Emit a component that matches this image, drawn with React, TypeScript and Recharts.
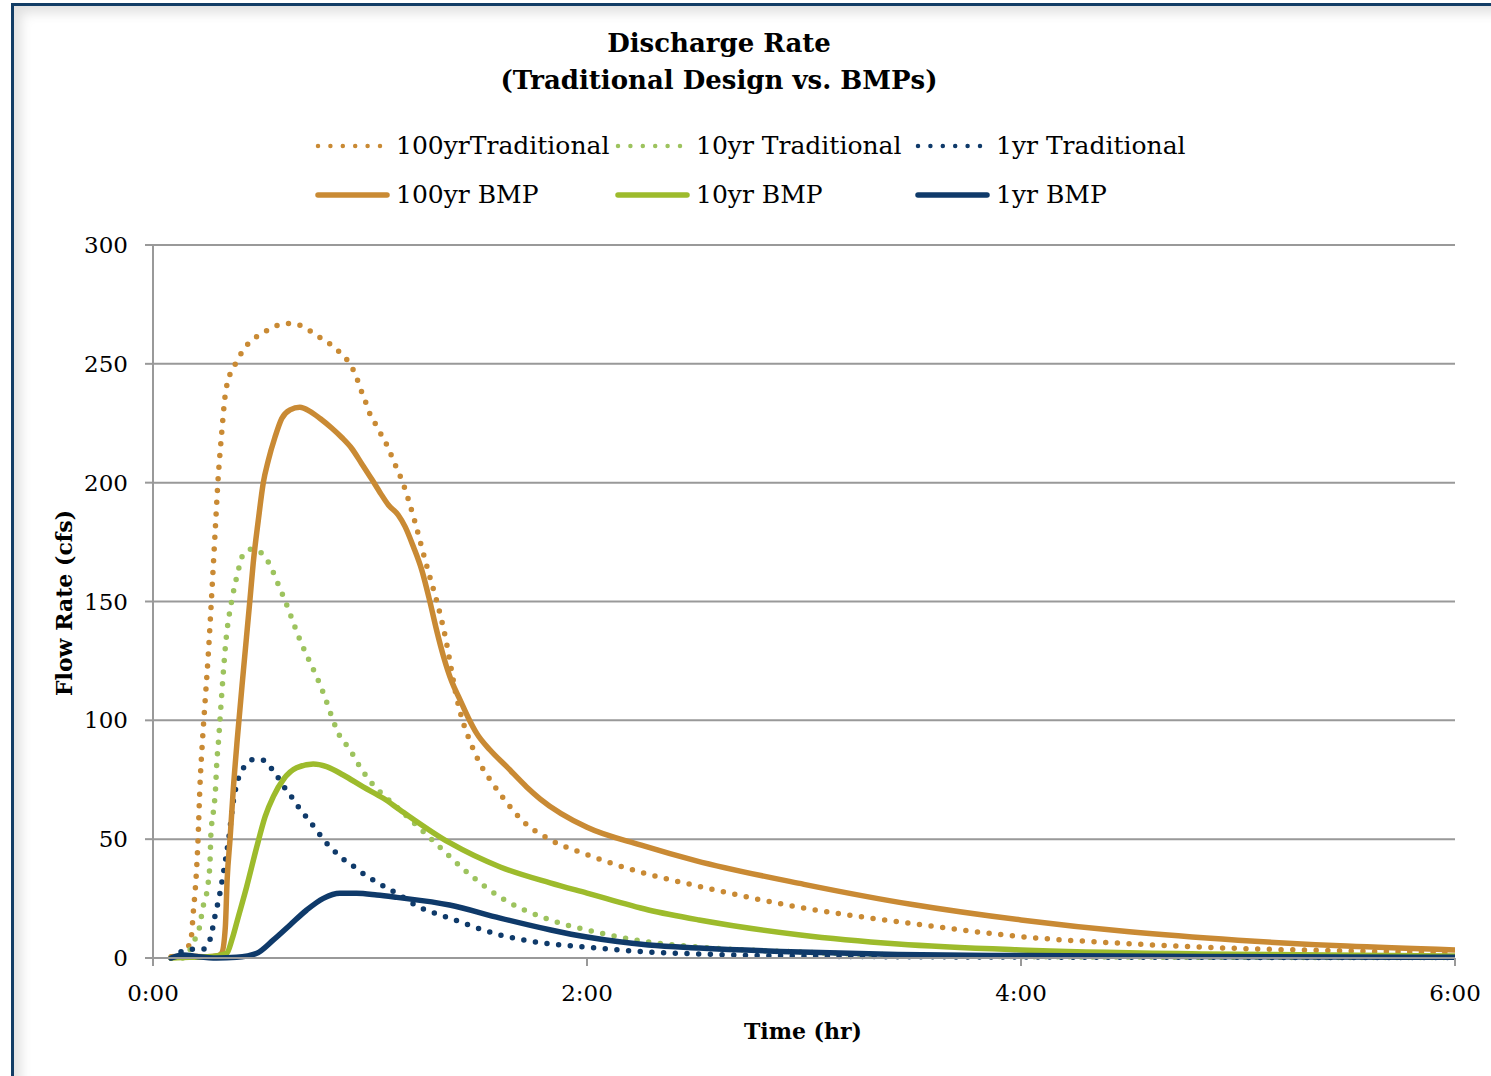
import { LineChart, Line, XAxis, YAxis, CartesianGrid, Legend, Label } from 'recharts';

const FONT = '"DejaVu Serif", serif';

// time in minutes after start, flow in cfs
const trad100Time = [5, 8, 9.5, 10.6, 11.1, 11.9, 12.4, 13, 13.7, 14.5, 15.3, 16.2, 17.1, 18, 19, 19.9, 21.3, 23, 24.5, 26.4, 28.9, 31.7, 34.6, 37.9, 41.1, 43.9, 46.6, 49.4, 51.7, 54, 55.6, 56.8, 57.9, 59.1, 60.2, 61.9, 63.4, 64.9, 66.1, 67.4, 68.8, 70.8, 72.6, 74.3, 76, 77.8, 79.5, 80.9, 82.1, 83.8, 85.5, 87.7, 90.4, 93.9, 97, 102, 110, 120, 135, 150, 180, 210, 240, 270, 300, 330, 360];
const trad100Flow = [0, 1, 4, 9, 18.5, 33.5, 48, 73, 92, 110, 128, 152, 177, 201.5, 221, 236, 245.7, 250.5, 254.7, 258.6, 261.7, 264.2, 266.3, 267, 265.9, 263.4, 260.6, 257.8, 254.7, 250.9, 246.7, 242.1, 237.3, 232.7, 228, 223.8, 219.3, 215.1, 210.7, 206, 201.1, 192, 182.5, 172.8, 163.3, 153.7, 144, 134.5, 124.7, 110.7, 100.4, 91, 81.9, 73.5, 67, 58, 49.6, 43.5, 36, 30.5, 21, 14.5, 9, 6, 4, 3, 2.2];

const trad10Time = [5, 8.4, 10.2, 11.6, 12.8, 13.9, 14.8, 15.3, 15.8, 16, 16.7, 17.3, 17.6, 18.1, 19.1, 20.2, 21.8, 23.1, 23.9, 25, 27.3, 30.3, 32.1, 33.5, 34.8, 36, 40.6, 46.2, 52.2, 54, 57.2, 60.9, 63.7, 68.3, 76.6, 87.7, 95.9, 109.8, 120, 137, 151, 179, 206, 240, 300, 360];
const trad10Flow = [0, 0, 3.4, 7.9, 12.5, 22, 26.9, 32.1, 42, 51.8, 61.6, 71.4, 81.2, 91, 113, 134, 150.6, 160, 165, 170, 172, 170, 166, 161.4, 156.6, 152.3, 134, 115, 92, 88.7, 80.5, 72.8, 68.6, 62.3, 50.5, 35, 25.7, 16, 11.8, 6.7, 4.6, 2.5, 1.3, 0.6, 0.3, 0.2];

const trad1Time = [5, 7.9, 11.1, 13.9, 15.8, 17.1, 18.5, 19.6, 21, 22.2, 23.6, 25.4, 28, 31, 33.1, 34.9, 36.7, 38.8, 40.6, 42.7, 44.6, 46.6, 48.7, 51, 53.5, 56.3, 58.9, 61.7, 64.4, 67.4, 73, 82, 96, 110, 120, 137, 151, 179, 240, 360];
const trad1Flow = [0, 2.7, 3.7, 3.7, 7.9, 17.4, 27.2, 37, 51, 65.8, 75.6, 80.8, 83.6, 83, 79, 75.2, 71, 66.8, 62.7, 58.8, 55, 51, 47.1, 43.8, 40.5, 37.7, 34.6, 32.1, 29.7, 27.2, 21.9, 16.8, 9.7, 5.9, 4.6, 2.5, 1.7, 0.8, 0.4, 0.2];

const bmp100Time = [5, 10, 15, 18, 19, 20, 20.5, 21.3, 22.2, 23.3, 25, 26.8, 27.7, 29.1, 30.5, 31.9, 33.7, 35.6, 37.9, 40.6, 43.4, 46.2, 49.4, 52.2, 54.9, 57.7, 60.5, 62.8, 65.1, 67.8, 69.7, 72, 74.3, 76.4, 78.4, 80.3, 82.6, 84.9, 87.2, 89.5, 93.2, 97.8, 103.3, 107, 120, 135, 150, 180, 210, 240, 270, 300, 330, 360];
const bmp100Flow = [0.5, 0.8, 0.5, 1, 2, 13, 33, 50, 71, 92, 121, 150.6, 166, 184, 200, 209.5, 219, 227, 230.6, 231.7, 230, 227, 223, 219, 214.5, 208, 201.4, 195.8, 190.6, 186.4, 181.5, 173, 163.3, 151, 138, 127, 116.3, 108.6, 101, 94.5, 87.5, 80.5, 72, 67, 55, 47.5, 41, 31, 22.5, 16, 11, 7.5, 5, 3.4];

const bmp10Time = [5, 10, 15, 20.4, 21.8, 23.6, 25.9, 28.7, 31, 33.3, 36, 39.7, 44.3, 48, 52.6, 58.1, 63.7, 68.3, 82, 96, 109.8, 120, 137, 151, 179, 206, 240, 290, 360];
const bmp10Flow = [0, 0.3, 0.5, 2, 7.6, 17.4, 30, 46.8, 59.5, 68, 75, 80, 81.6, 80.5, 77, 72, 67.2, 62.3, 48.5, 38.3, 31.6, 27.3, 20.2, 16, 9.7, 5.9, 3.4, 1.7, 0.8];

const bmp1Time = [5, 8.4, 12.1, 17.6, 23.1, 28.7, 33.3, 37.9, 42.5, 47.1, 51.7, 56.3, 61.9, 67.4, 82, 96, 110, 120, 137, 151, 179, 206, 240, 290, 360];
const bmp1Flow = [0, 1.3, 0.6, 0, 0.3, 2, 7.6, 13.9, 20.2, 25.1, 27.2, 27.2, 26.5, 25.5, 22.3, 16.8, 11.8, 8.8, 5.5, 4.2, 2.5, 1.5, 1, 0.6, 0.3];

const xTicks = [0, 120, 240, 360];
const yTicks = [0, 50, 100, 150, 200, 250, 300];

const ORANGE = '#C98A34';
const GREEN = '#9DBB2C';
const GREEN_LIGHT = '#9DC35E';
const NAVY = '#0F3A6A';

const series = [
  { key: 'trad100', name: '100yrTraditional', time: trad100Time, flow: trad100Flow, color: ORANGE, dotted: true },
  { key: 'trad10', name: '10yr Traditional', time: trad10Time, flow: trad10Flow, color: GREEN_LIGHT, dotted: true },
  { key: 'trad1', name: '1yr Traditional', time: trad1Time, flow: trad1Flow, color: NAVY, dotted: true },
  { key: 'bmp100', name: '100yr BMP', time: bmp100Time, flow: bmp100Flow, color: ORANGE, dotted: false },
  { key: 'bmp10', name: '10yr BMP', time: bmp10Time, flow: bmp10Flow, color: GREEN, dotted: false },
  { key: 'bmp1', name: '1yr BMP', time: bmp1Time, flow: bmp1Flow, color: NAVY, dotted: false },
];

function toPoints(time: number[], flow: number[]) {
  return time.map((t, i) => ({ t, q: flow[i] }));
}

function formatTime(min: number): string {
  return `${Math.round(min / 60)}:00`;
}

function renderLegend() {
  return (
    <div
      style={{
        display: 'grid',
        gridTemplateColumns: '300px 300px 300px',
        fontFamily: FONT,
        fontSize: 25,
        color: '#000',
      }}
    >
      {series.map((s) => (
        <div key={s.key} style={{ display: 'flex', alignItems: 'center', height: 49 }}>
          <svg width={75} height={12} style={{ marginRight: 6, flexShrink: 0 }}>
            <line
              x1={3}
              y1={6}
              x2={s.dotted ? 67 : 72}
              y2={6}
              stroke={s.color}
              strokeWidth={s.dotted ? 4.5 : 5.5}
              strokeDasharray={s.dotted ? '0 12.4' : undefined}
              strokeLinecap="round"
            />
          </svg>
          <span style={{ whiteSpace: 'nowrap' }}>{s.name}</span>
        </div>
      ))}
    </div>
  );
}

const GRID = '#999999';

export default function App() {
  return (
    <div style={{ position: 'absolute', left: 0, top: 0, width: 1491, height: 1076, background: '#fff', overflow: 'hidden' }}>
      <div
        style={{
          position: 'absolute',
          left: 11,
          top: 3,
          width: 1500,
          height: 1100,
          borderLeft: '3px solid #123D66',
          borderTop: '3px solid #123D66',
          boxShadow: 'inset 12px 12px 12px -5px rgba(0,0,0,0.12)',
        }}
      />
      <div
        style={{
          position: 'absolute',
          left: 0,
          top: 25,
          width: 1438,
          textAlign: 'center',
          fontFamily: FONT,
          fontWeight: 700,
          fontSize: 26,
          lineHeight: '37px',
          color: '#000',
        }}
      >
        Discharge Rate
        <br />
        (Traditional Design vs. BMPs)
      </div>
      <div style={{ position: 'absolute', left: 0, top: 0 }}>
        <LineChart width={1491} height={1076} margin={{ top: 245, right: 36, bottom: 58, left: 0 }}>
          <CartesianGrid vertical={false} stroke={GRID} strokeWidth={2} />
          <XAxis
            type="number"
            dataKey="t"
            domain={[0, 360]}
            ticks={xTicks}
            tickFormatter={formatTime}
            allowDataOverflow
            height={60}
            stroke={GRID}
            strokeWidth={2}
            tickSize={8}
            tickMargin={19}
            tick={{ fill: '#000', fontSize: 23, fontFamily: FONT }}
          >
            <Label
              content={() => (
                <text x={803} y={1039} textAnchor="middle" fill="#000" style={{ fontFamily: FONT, fontWeight: 700, fontSize: 22 }}>
                  Time (hr)
                </text>
              )}
            />
          </XAxis>
          <YAxis
            type="number"
            domain={[0, 300]}
            ticks={yTicks}
            width={153}
            stroke={GRID}
            strokeWidth={2}
            tickSize={8}
            tickMargin={17}
            tick={{ fill: '#000', fontSize: 23, fontFamily: FONT }}
          >
            <Label
              content={() => (
                <text
                  transform="translate(72,603) rotate(-90)"
                  textAnchor="middle"
                  fill="#000"
                  style={{ fontFamily: FONT, fontWeight: 700, fontSize: 22 }}
                >
                  Flow Rate (cfs)
                </text>
              )}
            />
          </YAxis>
          <Legend
            layout="horizontal"
            verticalAlign="middle"
            align="center"
            content={renderLegend}
            wrapperStyle={{ top: 121, left: 315, width: 910 }}
          />
          {series.map((s) => (
            <Line
              key={s.key}
              data={toPoints(s.time, s.flow)}
              dataKey="q"
              name={s.name}
              type="monotone"
              stroke={s.color}
              strokeWidth={s.dotted ? 5.5 : 5.5}
              strokeDasharray={s.dotted ? '0 11.7' : undefined}
              strokeLinecap="round"
              dot={false}
              activeDot={false}
              isAnimationActive={false}
            />
          ))}
        </LineChart>
      </div>
    </div>
  );
}
